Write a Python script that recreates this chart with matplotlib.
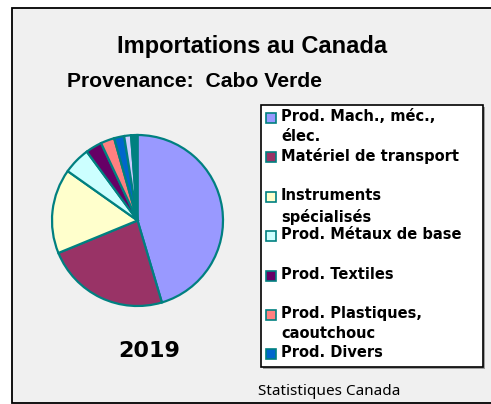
import matplotlib.pyplot as plt
from matplotlib.patches import Rectangle

# Importations au Canada - Provenance: Cabo Verde (2019), part en %
categories = ["Prod. Mach., méc.,\nélec.", "Matériel de transport",
              "Instruments\nspécialisés", "Prod. Métaux de base",
              "Prod. Textiles", "Prod. Plastiques,\ncaoutchouc",
              "Prod. Divers", "Autres (a)", "Autres (b)"]
shares = [45.4, 23.4, 16.0, 5.1, 3.1, 2.6, 1.9, 1.3, 1.2]
colors = ["#9999FF", "#993366", "#FFFFCC", "#CCFFFF", "#660066",
          "#FF8080", "#0066CC", "#CCCCFF", "#008080"]
n_legend = 7  # seules 7 catégories figurent dans la légende

W, H = 491, 404
fig = plt.figure(figsize=(W / 100, H / 100), dpi=100)


def fx(px):
    return px / W


def fy(py):
    return 1 - py / H


# cadre gris du graphique
fig.patches.append(Rectangle((fx(12), fy(403)), fx(500 - 12), (403 - 8) / H,
                             transform=fig.transFigure, facecolor="#F0F0F0",
                             edgecolor="black", linewidth=1.3, zorder=-10))

fig.text(fx(252), fy(53), "Importations au Canada", ha="center", va="baseline",
         fontsize=17, fontweight="bold", family="Liberation Sans")
fig.text(fx(67), fy(87), "Provenance:  Cabo Verde", ha="left", va="baseline",
         fontsize=15.2, fontweight="bold", family="Liberation Sans")

# camembert
cx, cy, r = 137.5, 220.5, 85.5
ax = fig.add_axes([fx(cx - r), fy(cy + r), 2 * r / W, 2 * r / H])
ax.pie(shares, colors=colors, startangle=90, counterclock=False,
       wedgeprops=dict(edgecolor="#008080", linewidth=1.6))
ax.set_xlim(-1, 1)
ax.set_ylim(-1, 1)
ax.axis("off")

fig.text(fx(149), fy(357), "2019", ha="center", va="baseline",
         fontsize=16, fontweight="bold", family="DejaVu Sans")

# légende
lx0, ly0, lx1, ly1 = 261, 105, 483, 367
fig.patches.append(Rectangle((fx(lx0 + 2), fy(ly1 + 2)), fx(lx1 - lx0), (ly1 - ly0) / H,
                             transform=fig.transFigure, facecolor="#A0A0A0",
                             edgecolor="none"))
fig.patches.append(Rectangle((fx(lx0), fy(ly1)), fx(lx1 - lx0), (ly1 - ly0) / H,
                             transform=fig.transFigure, facecolor="white",
                             edgecolor="black", linewidth=1.2))
y = 118
for lab, col in zip(categories[:n_legend], colors[:n_legend]):
    fig.patches.append(Rectangle((fx(266), fy(y + 5)), fx(10), 10 / H,
                                 transform=fig.transFigure, facecolor=col,
                                 edgecolor="#008080", linewidth=1.2))
    fig.text(fx(281), fy(y - 9), lab, ha="left", va="top", fontsize=10.5,
             fontweight="bold", family="DejaVu Sans", linespacing=1.45)
    y += 39.4

fig.text(fx(258), fy(395), "Statistiques Canada", ha="left", va="baseline",
         fontsize=11, family="Noto Sans")

fig.savefig("out.png", dpi=100)
